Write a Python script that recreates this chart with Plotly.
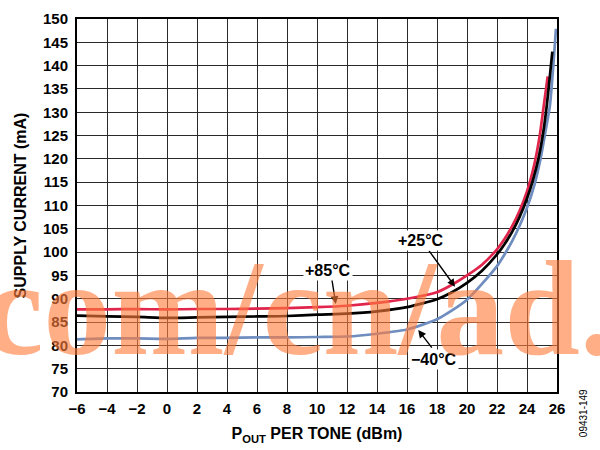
import plotly.graph_objects as go

# ---- data ----
x_85 = [-6, -4, -2, 0, 2, 4, 6, 8, 10, 12, 14, 16, 18, 19, 20, 21, 22, 22.5, 23, 23.5, 24, 24.5, 24.85, 25.1, 25.38]
y_85 = [87.7, 87.7, 87.8, 87.7, 87.8, 87.8, 87.9, 88.0, 88.2, 88.5, 89.1, 90.0, 91.4, 93.0, 95.0, 97.3, 100.6, 102.8, 105.5, 108.8, 113, 119, 125, 131, 137.7]

x_25 = [-6, -4, -2, 0, 2, 4, 6, 8, 10, 12, 14, 16, 18, 19, 20, 21, 22, 22.5, 23, 23.5, 24, 24.4, 24.76, 25.05, 25.31, 25.69]
y_25 = [86.4, 86.2, 86.1, 85.9, 86.0, 86.1, 86.2, 86.3, 86.6, 86.8, 87.3, 88.2, 89.9, 91.4, 93.4, 96.0, 99.5, 101.7, 104.3, 107.5, 111.5, 115.5, 120, 125, 131.2, 143]

x_m40 = [-6, -4, -2, 0, 2, 4, 6, 8, 10, 12, 14, 16, 17, 18, 19, 20, 21, 22, 22.5, 23, 23.5, 24, 24.5, 24.9, 25.2, 25.53, 25.93]
y_m40 = [81.3, 81.5, 81.5, 81.4, 81.6, 81.6, 81.7, 81.7, 81.8, 81.9, 82.5, 83.4, 84.4, 85.6, 87.5, 89.8, 93.2, 97.0, 99.5, 102.3, 105.6, 109.5, 114.5, 120, 125.3, 131.5, 147.9]

x_ticks = [-6, -4, -2, 0, 2, 4, 6, 8, 10, 12, 14, 16, 18, 20, 22, 24, 26]
x_tick_labels = ["\u22126", "\u22124", "\u22122", "0", "2", "4", "6", "8", "10", "12", "14", "16", "18", "20", "22", "24", "26"]
y_ticks = [70, 75, 80, 85, 90, 95, 100, 105, 110, 115, 120, 125, 130, 135, 140, 145, 150]
y_tick_labels = [str(v) for v in y_ticks]

series_names = ["+85\u00b0C", "+25\u00b0C", "\u221240\u00b0C"]
series_colors = ["#E0264C", "#000000", "#6F8DBF"]

FONT = "Liberation Sans, Arial, sans-serif"

fig = go.Figure()
for xs, ys, name, col in [(x_m40, y_m40, series_names[2], series_colors[2]),
                          (x_85, y_85, series_names[0], series_colors[0]),
                          (x_25, y_25, series_names[1], series_colors[1])]:
    fig.add_trace(go.Scatter(x=xs, y=ys, mode="lines", name=name,
                             line=dict(color=col, width=2.7, shape="spline", smoothing=0.6),
                             showlegend=False))

annos = []
# curve labels
label_pos = [(10.73, 96.1), (16.9, 102.5), (17.8, 76.9)]
arrow_from = [(10.98, 94.4), (17.4, 100.6), (17.73, 79.2)]
arrow_to = [(11.25, 88.9), (19.2, 92.6), (16.75, 83.3)]
for (tx, ty), (fx, fy), (ex, ey), name in zip(label_pos, arrow_from, arrow_to, series_names):
    annos.append(dict(x=ex, y=ey, ax=fx, ay=fy, xref="x", yref="y", axref="x", ayref="y",
                      text="", showarrow=True, arrowhead=2, arrowsize=1.1, arrowwidth=1.4,
                      arrowcolor="black"))
    annos.append(dict(x=tx, y=ty, xref="x", yref="y", text="<b>%s</b>" % name, showarrow=False,
                      font=dict(family=FONT, size=16, color="black"), bgcolor="white",
                      borderpad=1))

# watermark
annos.append(dict(x=-0.2, y=0.019, xref="paper", yref="paper", xanchor="left", yanchor="bottom",
                  text="<b>com/cn/ad.</b>", showarrow=False,
                  font=dict(family="Liberation Serif, Times New Roman, serif", size=136,
                            color="rgba(255,125,60,0.62)", weight="bold")))
# figure id
annos.append(dict(x=1.054, y=-0.057, xref="paper", yref="paper", text="09431-149", textangle=-90,
                  showarrow=False, font=dict(family=FONT, size=10, color="black"),
                  xanchor="center", yanchor="middle"))

fig.update_layout(
    width=600, height=450,
    margin=dict(l=77, r=43, t=10, b=57),
    plot_bgcolor="white", paper_bgcolor="white",
    font=dict(family=FONT, size=15, color="black"),
    annotations=annos,
    xaxis=dict(range=[-6, 26], tickvals=x_ticks, ticktext=["<b>%s</b>" % t for t in x_tick_labels],
               tickfont=dict(family=FONT, size=15, color="black"),
               showgrid=True, gridcolor="#2a2a2a", gridwidth=1.2,
               showline=True, linecolor="black", linewidth=2, mirror=True,
               zeroline=False, ticks="", ticklabelstandoff=2, ticklabeloverflow="allow",
               title=dict(text="<b>P<sub>OUT</sub> PER TONE (dBm)</b>", standoff=12,
                          font=dict(family=FONT, size=16, color="black"))),
    yaxis=dict(range=[70, 150], tickvals=y_ticks, ticktext=["<b>%s</b>" % t for t in y_tick_labels],
               tickfont=dict(family=FONT, size=15, color="black"),
               showgrid=True, gridcolor="#2a2a2a", gridwidth=1.2,
               showline=True, linecolor="black", linewidth=2, mirror=True,
               zeroline=False, ticks="", ticklabelstandoff=4, ticklabeloverflow="allow",
               title=dict(text="<b>SUPPLY CURRENT (mA)</b>", standoff=12,
                          font=dict(family=FONT, size=16, color="black"))),
)

fig.write_html("out.html", config={"displayModeBar": False},
               post_script="document.body.style.margin='0px';")
